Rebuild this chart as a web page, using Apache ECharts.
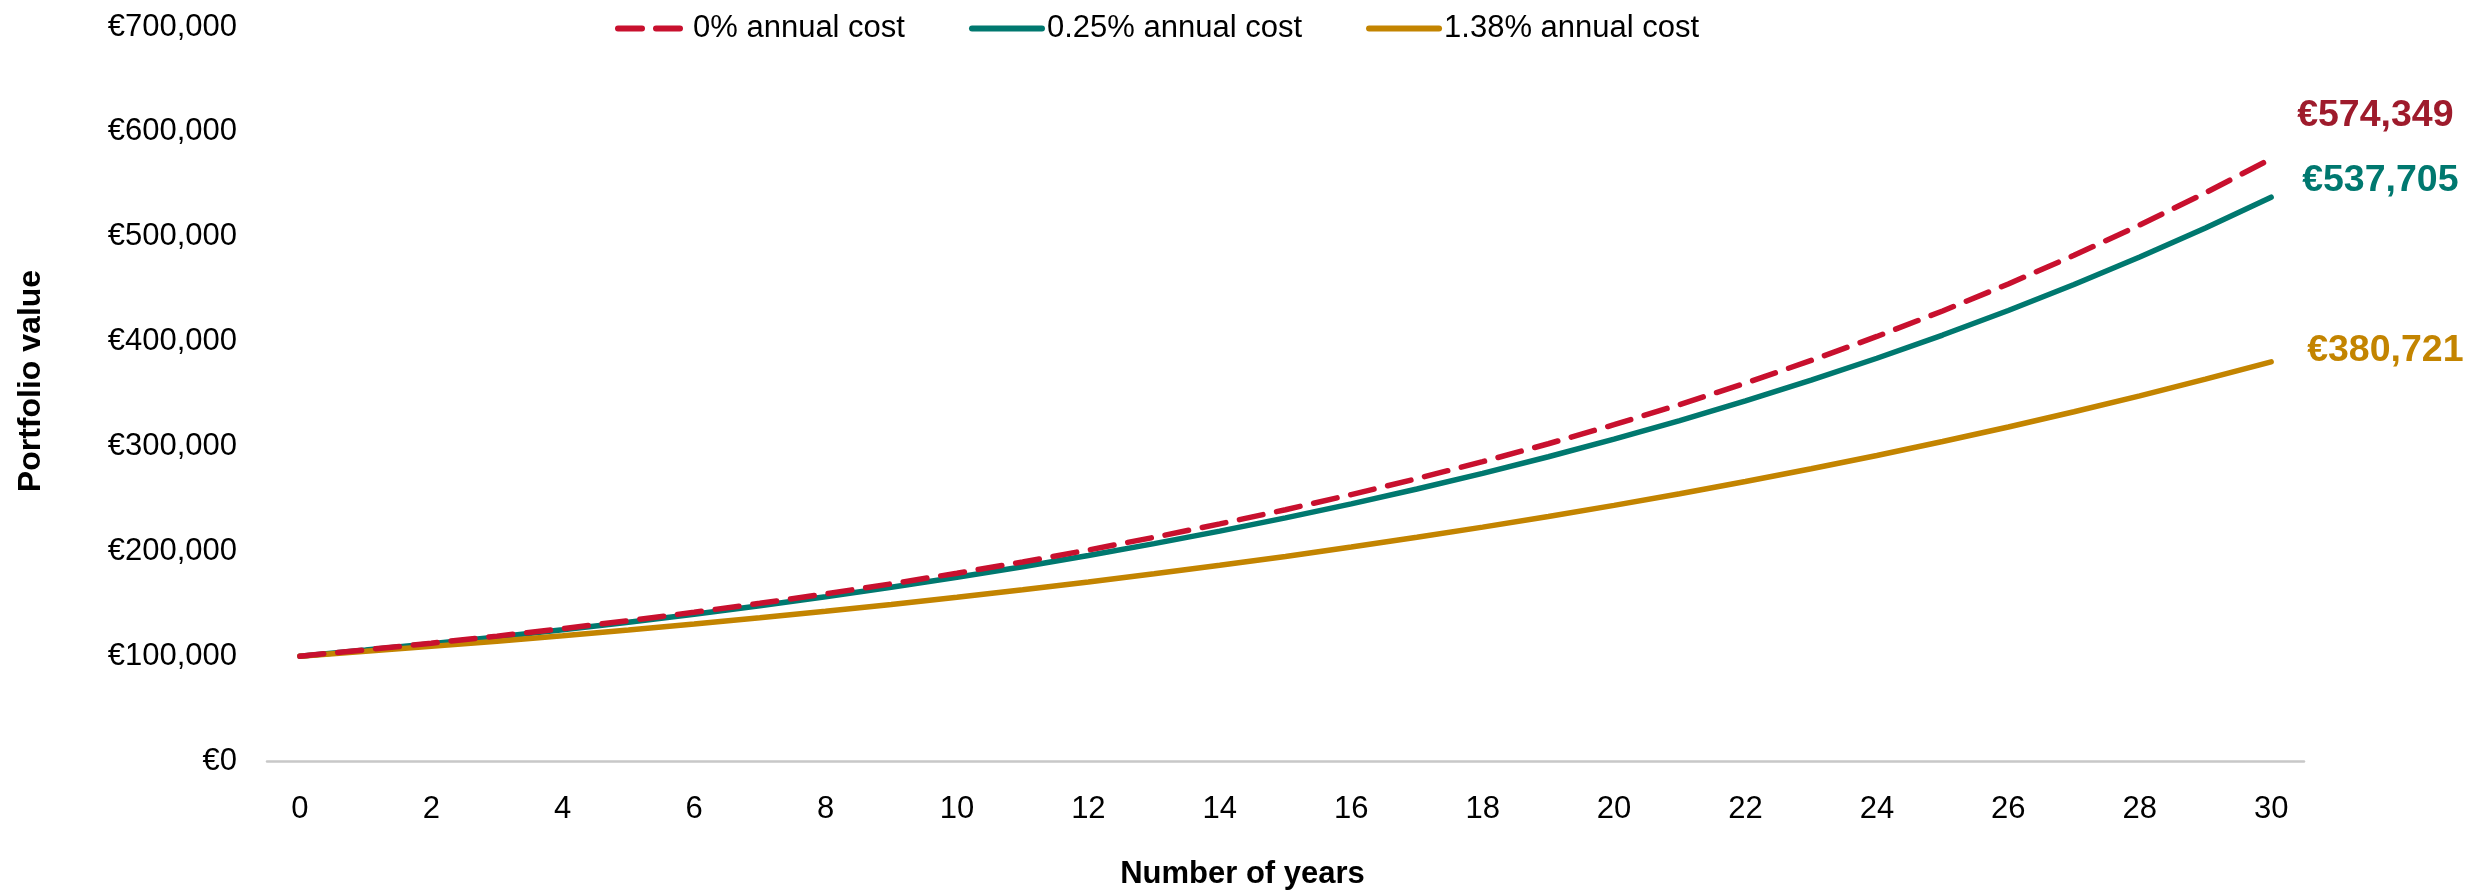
<!DOCTYPE html>
<html>
<head>
<meta charset="utf-8">
<script src="https://cdn.jsdelivr.net/npm/echarts@6/dist/echarts.min.js"></script>
<style>
  html, body { margin: 0; padding: 0; background: #ffffff; }
  #chart { width: 2485px; height: 890px; }
</style>
</head>
<body>
<div id="chart"></div>
<script>
// Years 0..30
const years = ['0','1','2','3','4','5','6','7','8','9','10','11','12','13','14','15','16','17','18','19','20','21','22','23','24','25','26','27','28','29','30'];

const seriesNames = ['0% annual cost', '0.25% annual cost', '1.38% annual cost'];

const cost0 = [100000, 106000, 112360, 119102, 126248, 133823, 141852, 150363, 159385, 168948,
  179085, 189830, 201220, 213293, 226090, 239656, 254035, 269277, 285434, 302560,
  320714, 339956, 360354, 381975, 404893, 429187, 454938, 482235, 511169, 541839, 574349];

const cost025 = [100000, 105767, 111867, 118318, 125142, 132360, 139993, 148067, 156605, 165638,
  175190, 185293, 195979, 207282, 219236, 231880, 245253, 259397, 274357, 290180,
  306915, 324616, 343337, 363138, 384080, 406231, 429659, 454438, 480646, 508366, 537705];

const cost138 = [100000, 104557, 109321, 114303, 119512, 124958, 130653, 136607, 142832, 149341,
  156147, 163263, 170703, 178482, 186616, 195120, 204012, 213309, 223030, 233194,
  243820, 254931, 266549, 278696, 291397, 304676, 318560, 333077, 348256, 364127, 380721];

const yTicks = { min: 0, max: 700000, interval: 100000 };

const euro = v => '€' + Number(v).toLocaleString('en-US');
const FONT = '"Liberation Sans", Arial, sans-serif';

const chart = echarts.init(document.getElementById('chart'), null, { renderer: 'canvas' });

chart.setOption({
  animation: false,
  backgroundColor: '#ffffff',
  textStyle: { fontFamily: FONT },
  grid: { left: 267, right: 181, top: 27, bottom: 129, containLabel: false, outerBoundsMode: 'none' },
  legend: {
    left: 610,
    top: 8,
    itemWidth: 70,
    itemHeight: 14,
    itemGap: 64,
    itemStyle: { opacity: 0 },
    lineStyle: { width: 6, cap: 'round' },
    textStyle: { fontSize: 31, color: '#000000', fontFamily: FONT },
    data: seriesNames
  },
  xAxis: {
    type: 'category',
    boundaryGap: true,
    data: years,
    name: 'Number of years',
    nameLocation: 'middle',
    nameGap: 98,
    nameTextStyle: { fontSize: 31, fontWeight: 'bold', color: '#000000', fontFamily: FONT, padding: [0, 86, 0, 0] },
    axisLine: { show: true, lineStyle: { color: '#C8C8C8', width: 2.5 } },
    axisTick: { show: false },
    axisLabel: { interval: 1, fontSize: 31, color: '#000000', margin: 33, fontFamily: FONT },
    splitLine: { show: false }
  },
  yAxis: {
    type: 'value',
    min: yTicks.min,
    max: yTicks.max,
    interval: yTicks.interval,
    name: 'Portfolio value',
    nameLocation: 'middle',
    nameGap: 220,
    nameTextStyle: { fontSize: 32, fontWeight: 'bold', color: '#000000', fontFamily: FONT, padding: [0, 0, 0, 26] },
    axisLine: { show: false },
    axisTick: { show: false },
    splitLine: { show: false },
    axisLabel: { fontSize: 31, color: '#000000', margin: 30, formatter: euro, fontFamily: FONT }
  },
  series: [
    {
      name: seriesNames[0],
      type: 'line',
      data: cost0,
      symbol: 'none',
      smooth: false,
      z: 4,
      lineStyle: { color: '#C8102E', width: 5.5, type: [24, 14], cap: 'round' },
      itemStyle: { color: '#C8102E' },
      endLabel: {
        show: true, distance: 0, offset: [26, -43],
        formatter: p => euro(p.value),
        fontSize: 37.5, fontWeight: 'bold', color: '#9E1B2C', fontFamily: FONT
      }
    },
    {
      name: seriesNames[1],
      type: 'line',
      data: cost025,
      symbol: 'none',
      z: 3,
      lineStyle: { color: '#00786F', width: 5.5, cap: 'round' },
      itemStyle: { color: '#00786F' },
      endLabel: {
        show: true, distance: 0, offset: [31, -17],
        formatter: p => euro(p.value),
        fontSize: 37.5, fontWeight: 'bold', color: '#00786F', fontFamily: FONT
      }
    },
    {
      name: seriesNames[2],
      type: 'line',
      data: cost138,
      symbol: 'none',
      z: 3,
      lineStyle: { color: '#C38400', width: 5.5, cap: 'round' },
      itemStyle: { color: '#C38400' },
      endLabel: {
        show: true, distance: 0, offset: [36, -11],
        formatter: p => euro(p.value),
        fontSize: 37.5, fontWeight: 'bold', color: '#C38400', fontFamily: FONT
      }
    }
  ]
});
</script>
</body>
</html>
